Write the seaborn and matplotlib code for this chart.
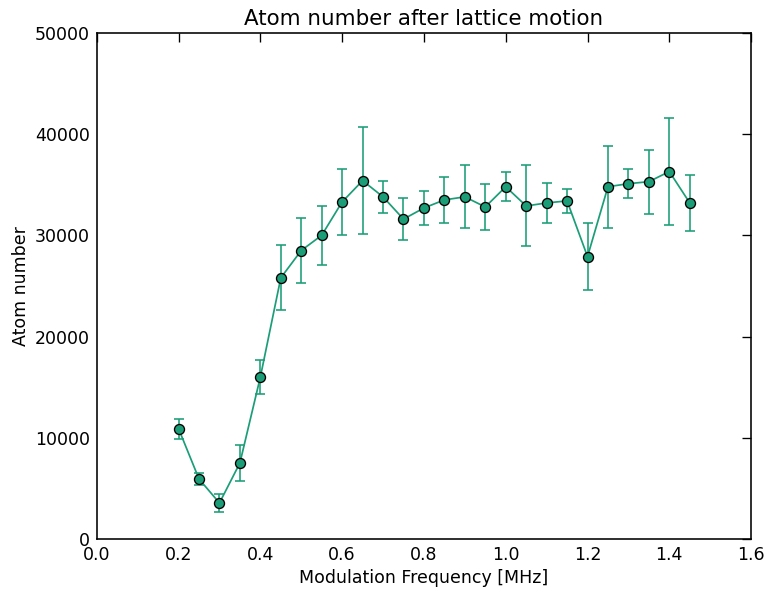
import numpy as np
import pandas as pd
import seaborn as sns
import matplotlib
matplotlib.use("Agg")
import matplotlib.pyplot as plt

freq = [0.20, 0.25, 0.30, 0.35, 0.40, 0.45, 0.50, 0.55, 0.60, 0.65, 0.70, 0.75, 0.80,
        0.85, 0.90, 0.95, 1.00, 1.05, 1.10, 1.15, 1.20, 1.25, 1.30, 1.35, 1.40, 1.45]
atoms = [10900, 5930, 3560, 7510, 16000, 25800, 28500, 30000, 33300, 35400, 33800, 31600, 32700,
         33500, 33800, 32800, 34800, 32900, 33200, 33400, 27900, 34800, 35100, 35300, 36300, 33200]
err = [1000, 600, 850, 1800, 1700, 3200, 3200, 2900, 3300, 5300, 1600, 2100, 1700,
       2250, 3100, 2300, 1450, 4000, 2000, 1200, 3350, 4050, 1450, 3150, 5300, 2800]

df = pd.DataFrame({"freq": freq, "atoms": atoms, "err": err})

sns.set_style("white")
plt.rcParams['font.family'] = ['DejaVu Sans']
plt.rcParams['text.color'] = 'black'
plt.rcParams['axes.labelcolor'] = 'black'

fig = plt.figure(figsize=(8, 592/96), dpi=96)
ax = fig.add_axes([0.126, 0.0895, 0.852, 0.855])

color = "#1b9e77"
ax.errorbar(df["freq"], df["atoms"], yerr=df["err"], fmt="none", ecolor=color,
            elinewidth=1.2, capsize=3.5, capthick=1.2, zorder=2)
sns.lineplot(data=df, x="freq", y="atoms", ax=ax, color=color, linewidth=1.3,
             marker="o", markersize=7.5, markerfacecolor=color, markeredgecolor="black",
             markeredgewidth=1, zorder=3)

ax.set_xlim(0.0, 1.6)
ax.set_ylim(0, 50000)
ax.set_xticks(np.arange(0, 1.61, 0.2))
ax.set_xticklabels([f"{v:.1f}" for v in np.arange(0, 1.61, 0.2)])
ax.set_yticks(np.arange(0, 50001, 10000))
ax.tick_params(direction="in", top=True, right=True, length=7, width=1,
               labelsize=13, colors="black", pad=5)
for s in ax.spines.values():
    s.set_color("black")
    s.set_linewidth(1.2)
ax.set_xlabel("Modulation Frequency [MHz]", fontsize=13, color="black")
ax.set_ylabel("Atom number", fontsize=13, color="black")
ax.set_title("Atom number after lattice motion", fontsize=16, color="black")

fig.savefig("out.png", dpi=96)
